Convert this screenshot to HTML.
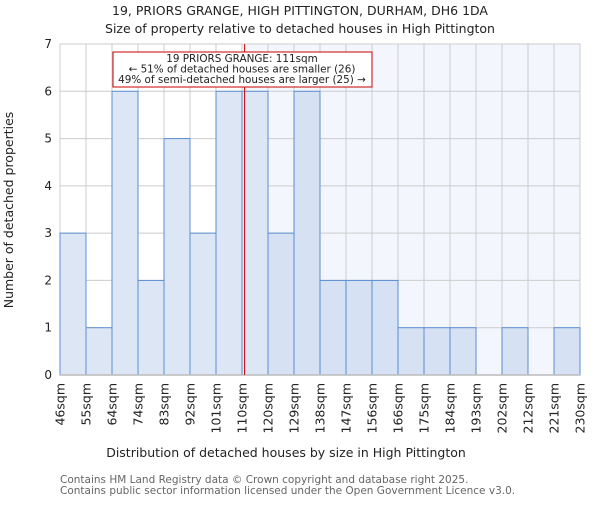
<!DOCTYPE html>
<html><head><meta charset="utf-8"><style>
body{margin:0;background:#fff}
svg{font-family:"DejaVu Sans","Liberation Sans",sans-serif}
</style></head><body>
<svg id="chart" width="600" height="500">
<text x="300" y="15" text-anchor="middle" font-size="12.5" fill="#222">19, PRIORS GRANGE, HIGH PITTINGTON, DURHAM, DH6 1DA</text>
<text x="300" y="33" text-anchor="middle" font-size="12.5" fill="#222">Size of property relative to detached houses in High Pittington</text>
<g id="plot"></g>
<text x="286" y="457" text-anchor="middle" font-size="12.5" fill="#222">Distribution of detached houses by size in High Pittington</text>
<text transform="translate(13,210) rotate(-90)" text-anchor="middle" font-size="12.5" fill="#222">Number of detached properties</text>
<text x="60" y="483" font-size="10.5" fill="#666">Contains HM Land Registry data © Crown copyright and database right 2025.</text>
<text x="60" y="494" font-size="10.5" fill="#666">Contains public sector information licensed under the Open Government Licence v3.0.</text>
</svg>
<script>
const categories=["46sqm","55sqm","64sqm","74sqm","83sqm","92sqm","101sqm","110sqm","120sqm","129sqm","138sqm","147sqm","156sqm","166sqm","175sqm","184sqm","193sqm","202sqm","212sqm","221sqm","230sqm"];
const counts=[3,1,6,2,5,3,6,6,3,6,2,2,2,1,1,1,0,1,0,1];
const yTicks=[0,1,2,3,4,5,6,7];
const markerValue=111;
const binStarts=[46,55,64,74,83,92,101,110,120,129,138,147,156,166,175,184,193,202,212,221,230];
const NS="http://www.w3.org/2000/svg";
const L=60,R=580,T=44,B=375,bw=(R-L)/counts.length;
const x=i=>L+i*bw;
const y=v=>B-(v/7)*(B-T);
function xv(v){for(let i=0;i<binStarts.length-1;i++){if(v>=binStarts[i]&&v<=binStarts[i+1])return x(i)+(v-binStarts[i])/(binStarts[i+1]-binStarts[i])*bw;}return R;}
const g=document.getElementById('plot');
function mk(t,a){const e=document.createElementNS(NS,t);for(const k in a)e.setAttribute(k,a[k]);g.appendChild(e);return e;}
const mx=xv(markerValue);
let e=mk('rect',{x:mx,y:T,width:R-mx,height:B-T,fill:'#f3f6fd'});


for(const v of yTicks){e=mk('line',{x1:L,x2:R,y1:y(v),y2:y(v),stroke:'#ccc','stroke-width':1});


e=mk('text',{x:L-8,y:y(v)+4,'text-anchor':'end','font-size':12,fill:'#222'});e.textContent=v;

}
for(let i=0;i<=counts.length;i++){e=mk('line',{x1:x(i),x2:x(i),y1:T,y2:B,stroke:'#ccc','stroke-width':1});

}
counts.forEach((c,i)=>{if(c<=0)return;e=mk('rect',{x:x(i),y:y(c),width:bw,height:B-y(c),fill:x(i)>=mx?'#d6e2f3':'#dce6f4',stroke:'#5b8fd0','stroke-width':1});

});
e=mk('line',{x1:L,x2:R,y1:B,y2:B,stroke:'#bbb','stroke-width':1.5});


categories.forEach((c,i)=>{e=mk('text',{transform:`translate(${x(i)+4.5},383) rotate(-90)`,'text-anchor':'end','font-size':12.5,fill:'#222'});e.textContent=c;

});
e=mk('line',{x1:mx,x2:mx,y1:T,y2:B,stroke:'#cc0000','stroke-width':1});


e=mk('rect',{x:113,y:52,width:259,height:35,fill:'#fff',stroke:'#cc0000','stroke-width':1});


["19 PRIORS GRANGE: 111sqm","← 51% of detached houses are smaller (26)","49% of semi-detached houses are larger (25) →"].forEach((s,k)=>{e=mk('text',{x:242,y:62+k*10.5,'text-anchor':'middle','font-size':10.4,fill:'#222'});e.textContent=s;

});
</script>
</body></html>
